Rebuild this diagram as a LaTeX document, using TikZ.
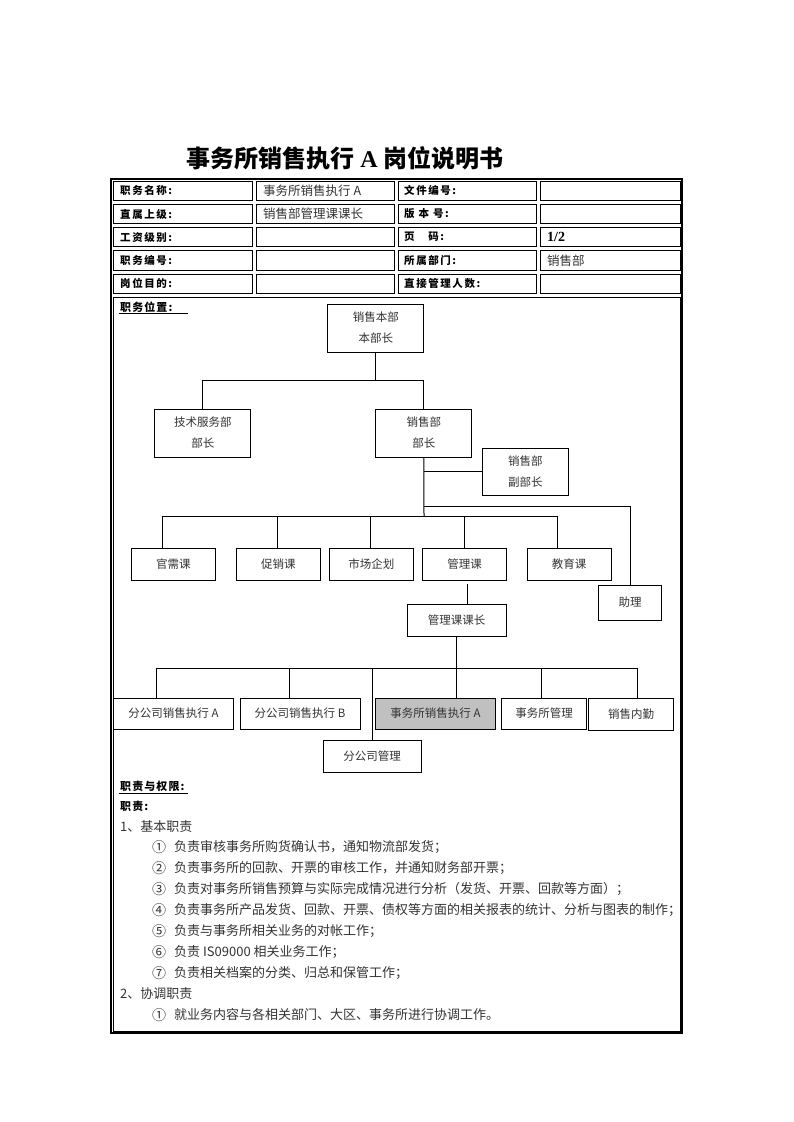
\documentclass[tikz,border=0pt]{standalone}
\usepackage{fontspec}
\setmainfont{Noto Sans CJK SC}
\newfontfamily\tnr{Liberation Serif}
\usetikzlibrary{calc}
\definecolor{txt}{HTML}{333333}
\definecolor{hl}{HTML}{C0C0C0}
\begin{document}
\begin{tikzpicture}[x=1pt,y=-1pt,
  box/.style={draw,line width=1pt,inner sep=0pt,align=center,font=\fontsize{11.5}{21}\selectfont,text=txt},
  conn/.style={line width=1pt},
  cell/.style={draw,line width=0.8pt},
  lab/.style={anchor=west,inner sep=0pt,font=\bfseries\fontsize{10.5}{13}\selectfont\addfontfeature{LetterSpace=15}},
  val/.style={anchor=west,inner sep=0pt,font=\fontsize{12.5}{14}\selectfont,text=txt},
  body/.style={anchor=west,inner sep=0pt,font=\fontsize{13}{15}\selectfont,text=txt},
  num/.style={anchor=west,inner sep=0pt,font=\fontsize{14}{15}\selectfont,text=txt},
  head/.style={anchor=west,inner sep=0pt,font=\bfseries\fontsize{11}{13}\selectfont\addfontfeature{LetterSpace=10}},
]
\useasboundingbox (0,0) rectangle (793,1122);
\fill[white] (0,0) rectangle (793,1122);

% title
\node[font=\bfseries\fontsize{24}{28}\selectfont] (title) at (345,158) {事务所销售执行 {\tnr\bfseries A} 岗位说明书};

% table frame
\draw[line width=1.3pt] (111,179) rectangle (682,1033);
\foreach \xa/\xb in {111/254.5,254.5/396,396/538.5,538.5/682}
  \foreach \ya/\yb in {179/202.5,202.5/225.5,225.5/248.5,248.5/272,272/295.5}
    \draw[cell] (\xa+2,\ya+2) rectangle (\xb-2,\yb-2);
\draw[cell] (113,297.5) rectangle (680,1031);

% table texts
\node[lab] (l1) at (120,190.75) {职务名称:};
\node[lab] (l2) at (120,214) {直属上级:};
\node[lab] (l3) at (120,237) {工资级别:};
\node[lab] (l4) at (120,260.25) {职务编号:};
\node[lab] (l5) at (120,283.75) {岗位目的:};
\node[val] (v1) at (263,190.75) {事务所销售执行 A};
\node[val] (v2) at (263,214) {销售部管理课课长};
\node[lab] (m1) at (404,190.75) {文件编号:};
\node[lab] (m2) at (404,214) {版\ 本\ 号:};
\node[lab] (m3) at (404,237) {页\hspace{1.3em}码:};
\node[lab] (m4) at (404,260.25) {所属部门:};
\node[lab] (m5) at (404,283.75) {直接管理人数:};
\node[anchor=west,inner sep=0pt,font=\tnr\bfseries\fontsize{14}{16}\selectfont] (pg) at (547,237) {1/2};
\node[val] (dep) at (547,260.25) {销售部};

% position heading
\node[head] (pos) at (120,307) {职务位置:};
\draw[line width=0.8pt] (119,313.5) -- (188,313.5);

% org chart boxes
\node[box,minimum width=96,minimum height=48] (hq) at (375.75,328) {销售本部\\本部长};
\node[box,minimum width=96,minimum height=48] (tech) at (202.8,433) {技术服务部\\部长};
\node[box,minimum width=96,minimum height=48] (sales) at (423.9,433) {销售部\\部长};
\node[box,minimum width=86.5,minimum height=47] (deputy) at (525.25,471.5) {销售部\\副部长};

\node[box,minimum width=84,minimum height=32] (gx) at (173.25,564) {官需课};
\node[box,minimum width=84,minimum height=32] (cx) at (278.25,564) {促销课};
\node[box,minimum width=84,minimum height=32] (sc) at (371.3,564) {市场企划};
\node[box,minimum width=84,minimum height=32] (gl) at (464.5,564) {管理课};
\node[box,minimum width=84,minimum height=32] (jy) at (569,564) {教育课};
\node[box,minimum width=63,minimum height=35] (zl) at (630,602.5) {助理};
\node[box,minimum width=99,minimum height=32] (kz) at (456.5,620) {管理课课长};

\node[box,minimum width=120,minimum height=31] (fa) at (173.5,713.5) {分公司销售执行 A};
\node[box,minimum width=120,minimum height=31] (fb) at (300,713.5) {分公司销售执行 B};
\node[box,minimum width=120,minimum height=31,fill=hl] (sa) at (435.5,713.5) {事务所销售执行 A};
\node[box,minimum width=85,minimum height=31] (sg) at (544,713.5) {事务所管理};
\node[box,minimum width=85,minimum height=32] (nq) at (631,714) {销售内勤};
\node[box,minimum width=98,minimum height=32] (fg) at (372,756) {分公司管理};

% connectors
\coordinate (j1) at (375.75,380.5);
\draw[conn] (hq.south) -- (j1);
\draw[conn] (tech.north) -- (tech.north |- j1) -- (sales.north |- j1) -- (sales.north);
\coordinate (j2) at (424,506);
\coordinate (j3) at (424,516);
\draw[conn] (sales.south) -- (j3);
\draw[conn] (sales.south |- deputy.west) -- (deputy.west);
\draw[conn] (j2) -| (zl.north);
\coordinate (b1) at (162,516);
\coordinate (b2) at (277.5,516);
\coordinate (b3) at (370.5,516);
\coordinate (b4) at (464.5,516);
\coordinate (b5) at (557,516);
\draw[conn] (b1) -- (b5);
\draw[conn] (b1) -- (b1 |- gx.north);
\draw[conn] (b2) -- (b2 |- cx.north);
\draw[conn] (b3) -- (b3 |- sc.north);
\draw[conn] (b4) -- (b4 |- gl.north);
\draw[conn] (b5) -- (b5 |- jy.north);
\coordinate (k1) at (467.5,583.5);
\draw[conn] (k1) -- (k1 |- kz.north);
\draw[conn] (kz.south) -- (kz.south |- sa.north);
\coordinate (c1) at (156.5,668);
\coordinate (c2) at (289,668);
\coordinate (c3) at (372.5,668);
\coordinate (c5) at (541.5,668);
\coordinate (c6) at (637.5,668);
\draw[conn] (c1) -- (c6);
\draw[conn] (c1) -- (c1 |- fa.north);
\draw[conn] (c2) -- (c2 |- fb.north);
\draw[conn] (c3) -- (c3 |- fg.north);
\draw[conn] (c5) -- (c5 |- sg.north);
\draw[conn] (c6) -- (c6 |- nq.north);

% duties
\node[head] (dq) at (120,786) {职责与权限:};
\draw[line width=0.8pt] (119,793) -- (188,793);
\node[head] (zz) at (120,806) {职责:};
\node[body] (s1) at (120,826.5) {1、基本职责};
\foreach \n/\y/\t in {
  ①/847/负责审核事务所购货确认书，通知物流部发货；,
  ②/868/负责事务所的回款、开票的审核工作，并通知财务部开票；,
  ③/889/负责对事务所销售预算与实际完成情况进行分析（发货、开票、回款等方面）；,
  ④/910/负责事务所产品发货、回款、开票、债权等方面的相关报表的统计、分析与图表的制作；,
  ⑤/931/负责与事务所相关业务的对帐工作；,
  ⑥/952/负责 IS09000 相关业务工作；,
  ⑦/973/负责相关档案的分类、归总和保管工作；}
{
  \node[num] at (152,\y) {\n};
  \node[body] at (174,\y) {\t};
}
\node[body] (s2) at (120,994) {2、协调职责};
\node[num] (s2a) at (152,1015) {①};
\node[body] (s2b) at (174,1015) {就业务内容与各相关部门、大区、事务所进行协调工作。};
\end{tikzpicture}
\end{document}
